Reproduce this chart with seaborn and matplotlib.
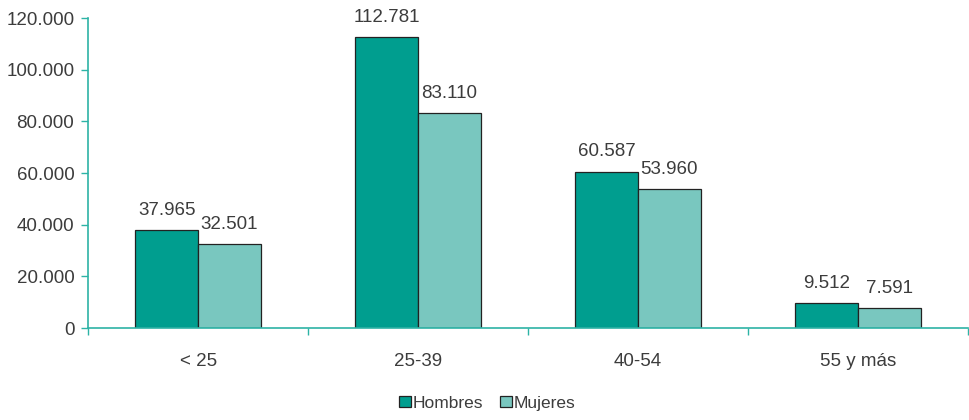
import pandas as pd
import matplotlib
matplotlib.use("Agg")
import matplotlib.pyplot as plt
import seaborn as sns
from matplotlib.ticker import FuncFormatter, FixedLocator
from matplotlib.patches import Patch

categorias = ["< 25", "25-39", "40-54", "55 y más"]
hombres = [37965, 112781, 60587, 9512]
mujeres = [32501, 83110, 53960, 7591]
series = ["Hombres", "Mujeres"]
colores = ["#009E8F", "#79C7BF"]
eje = "#2DB3A6"
texto = "#3C3C3C"

df = pd.DataFrame({
    "edad": categorias * 2,
    "sexo": ["Hombres"] * 4 + ["Mujeres"] * 4,
    "valor": hombres + mujeres,
})

sns.set_style("white")
plt.rcParams["font.family"] = ["Liberation Sans", "DejaVu Sans"]

fig = plt.figure(figsize=(9.69, 4.2), dpi=100)
ax = fig.add_axes([0.091, 0.219, 0.908, 0.738])

sns.barplot(data=df, x="edad", y="valor", hue="sexo", order=categorias,
            hue_order=series, palette=colores, width=0.57, ax=ax,
            edgecolor="#222222", linewidth=0.9, saturation=1, legend=False)

def miles(v, pos=None):
    return f"{int(round(v)):,}".replace(",", ".")

for cont in ax.containers:
    for bar in cont:
        h = bar.get_height()
        ax.annotate(miles(h), (bar.get_x() + bar.get_width() / 2, h),
                    xytext=(0, 8), textcoords="offset points",
                    ha="center", va="bottom", fontsize=13.5, color=texto)

ax.set_xlim(-0.5, 3.5)
ax.set_ylim(0, 120000)
ax.set_yticks(range(0, 120001, 20000))
ax.yaxis.set_major_formatter(FuncFormatter(miles))
ax.xaxis.set_minor_locator(FixedLocator([-0.5, 0.5, 1.5, 2.5, 3.5]))
ax.tick_params(axis="x", which="major", length=0, pad=18, labelsize=13.5, labelcolor=texto)
ax.tick_params(axis="x", which="minor", length=5, color=eje, width=1, direction="out", bottom=True)
ax.tick_params(axis="y", length=5, color=eje, width=1, direction="out", left=True,
               labelsize=13.5, labelcolor=texto, pad=5)
ax.set_xlabel("")
ax.set_ylabel("")

for s in ["top", "right"]:
    ax.spines[s].set_visible(False)
for s in ["left", "bottom"]:
    ax.spines[s].set_color(eje)
    ax.spines[s].set_linewidth(1.2)

handles = [Patch(facecolor=c, edgecolor="#222222", linewidth=0.9, label=l)
           for c, l in zip(colores, series)]
fig.legend(handles=handles, loc="lower center", bbox_to_anchor=(0.503, -0.015),
           ncol=2, frameon=False, fontsize=12.5, handlelength=0.65, handleheight=0.65,
           handletextpad=0.12, columnspacing=1.0, labelcolor=texto)

fig.savefig("out.png", dpi=100)
